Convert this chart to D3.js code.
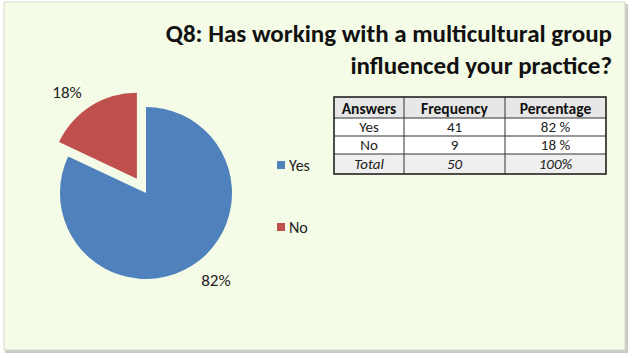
<!DOCTYPE html>
<html>
<head>
<meta charset="utf-8">
<script src="https://cdn.jsdelivr.net/npm/d3@7"></script>
<style>
  html, body { margin: 0; padding: 0; background: #ffffff; }
  svg { display: block; }
  text { font-family: Carlito, "Open Sans", "Noto Sans", sans-serif; }
</style>
</head>
<body>
<svg id="chart" width="635" height="358"></svg>
<script>
// answers and counts
const answers = ["Yes", "No"];
const counts = [41, 9];
const colours = ["#4f81bd", "#c0504d"];

// table contents
const tableHead = ["Answers", "Frequency", "Percentage"];
const tableRows = [
  ["Yes", "41", "82 %"],
  ["No", "9", "18 %"],
  ["Total", "50", "100%"]
];

const titleLines = ["Q8: Has working with a multicultural group", "influenced your practice?"];

const svg = d3.select("#chart");

// panel with a soft shadow edge
svg.append("rect").attr("x", 5).attr("y", 4).attr("width", 623).attr("height", 349)
  .attr("fill", "#c9ccc4");
svg.append("rect").attr("x", 4).attr("y", 2).attr("width", 621).attr("height", 348)
  .attr("fill", "#f4fbe6").attr("stroke", "#d4d8cc").attr("stroke-width", 1);

// title, right aligned
svg.append("g").selectAll("text").data(titleLines).join("text")
  .attr("x", 612)
  .attr("y", (d, i) => 42 + i * 32)
  .attr("text-anchor", "end")
  .attr("font-size", 25)
  .attr("font-weight", "bold")
  .attr("fill", "#111")
  .text(d => d);

// pie
const cx = 146, cy = 193, r = 86, explode = 17;
const total = d3.sum(counts);
const pie = d3.pie().sort(null).value(d => d)(counts);
const arc = d3.arc().innerRadius(0).outerRadius(r);
const colour = d3.scaleOrdinal().domain(answers).range(colours);

const shift = (d, i, k) => {
  const mid = (d.startAngle + d.endAngle) / 2;
  return [Math.sin(mid) * k, -Math.cos(mid) * k];
};

const pieG = svg.append("g").attr("transform", `translate(${cx},${cy})`);
const slices = pieG.selectAll("g.slice").data(pie).join("g")
  .attr("class", "slice")
  .attr("transform", (d, i) => {
    const [dx, dy] = i === 1 ? shift(d, i, explode) : [0, 0];
    return `translate(${dx},${dy})`;
  });

slices.append("path")
  .attr("d", arc)
  .attr("fill", (d, i) => colour(answers[i]));

// percent labels just outside the slice edge
slices.append("text")
  .attr("font-size", 17)
  .attr("fill", "#222")
  .attr("dy", "0.35em")
  .attr("text-anchor", d => Math.sin((d.startAngle + d.endAngle) / 2) < 0 ? "end" : "start")
  .attr("x", (d, i) => shift(d, i, r + 17)[0])
  .attr("y", (d, i) => shift(d, i, r + 17)[1])
  .text(d => Math.round(d.data / total * 100) + "%");

// legend
const legend = svg.append("g").selectAll("g").data(answers).join("g")
  .attr("transform", (d, i) => `translate(277,${161 + i * 62})`);
legend.append("rect").attr("width", 8).attr("height", 8)
  .attr("fill", d => colour(d));
legend.append("text").attr("x", 12).attr("y", 9.5)
  .attr("font-size", 16).attr("fill", "#222").text(d => d);

// table
const colX = [334, 404, 505, 606];
const rowY = [97, 118, 136, 154, 174];
const tbl = svg.append("g");
tbl.append("rect").attr("x", colX[0]).attr("y", rowY[0])
  .attr("width", colX[3] - colX[0]).attr("height", rowY[1] - rowY[0]).attr("fill", "#e6e7e6");
tbl.append("rect").attr("x", colX[0]).attr("y", rowY[1])
  .attr("width", colX[3] - colX[0]).attr("height", rowY[3] - rowY[1]).attr("fill", "#ffffff");
tbl.append("rect").attr("x", colX[0]).attr("y", rowY[3])
  .attr("width", colX[3] - colX[0]).attr("height", rowY[4] - rowY[3]).attr("fill", "#efefef");

tbl.selectAll("line.h").data(rowY.slice(1, 4)).join("line")
  .attr("x1", colX[0]).attr("x2", colX[3]).attr("y1", d => d).attr("y2", d => d)
  .attr("stroke", "#333").attr("stroke-width", 1);
tbl.selectAll("line.v").data(colX.slice(1, 3)).join("line")
  .attr("y1", rowY[0]).attr("y2", rowY[4]).attr("x1", d => d).attr("x2", d => d)
  .attr("stroke", "#333").attr("stroke-width", 1);
tbl.append("rect").attr("x", colX[0]).attr("y", rowY[0])
  .attr("width", colX[3] - colX[0]).attr("height", rowY[4] - rowY[0])
  .attr("fill", "none").attr("stroke", "#222").attr("stroke-width", 1.6);

const mids = [0, 1, 2].map(i => (colX[i] + colX[i + 1]) / 2);
tbl.selectAll("text.head").data(tableHead).join("text")
  .attr("x", (d, i) => mids[i]).attr("y", 113.5)
  .attr("text-anchor", "middle").attr("font-size", 15.5).attr("font-weight", "bold")
  .attr("fill", "#111").text(d => d);

const rowBase = [131.5, 150, 168.5];
tableRows.forEach((row, ri) => {
  tbl.selectAll(null).data(row).join("text")
    .attr("x", (d, i) => mids[i])
    .attr("y", rowBase[ri])
    .attr("text-anchor", "middle").attr("font-size", 15)
    .attr("font-style", ri === 2 ? "italic" : null)
    .attr("fill", "#222").text(d => d);
});
</script>
</body>
</html>
